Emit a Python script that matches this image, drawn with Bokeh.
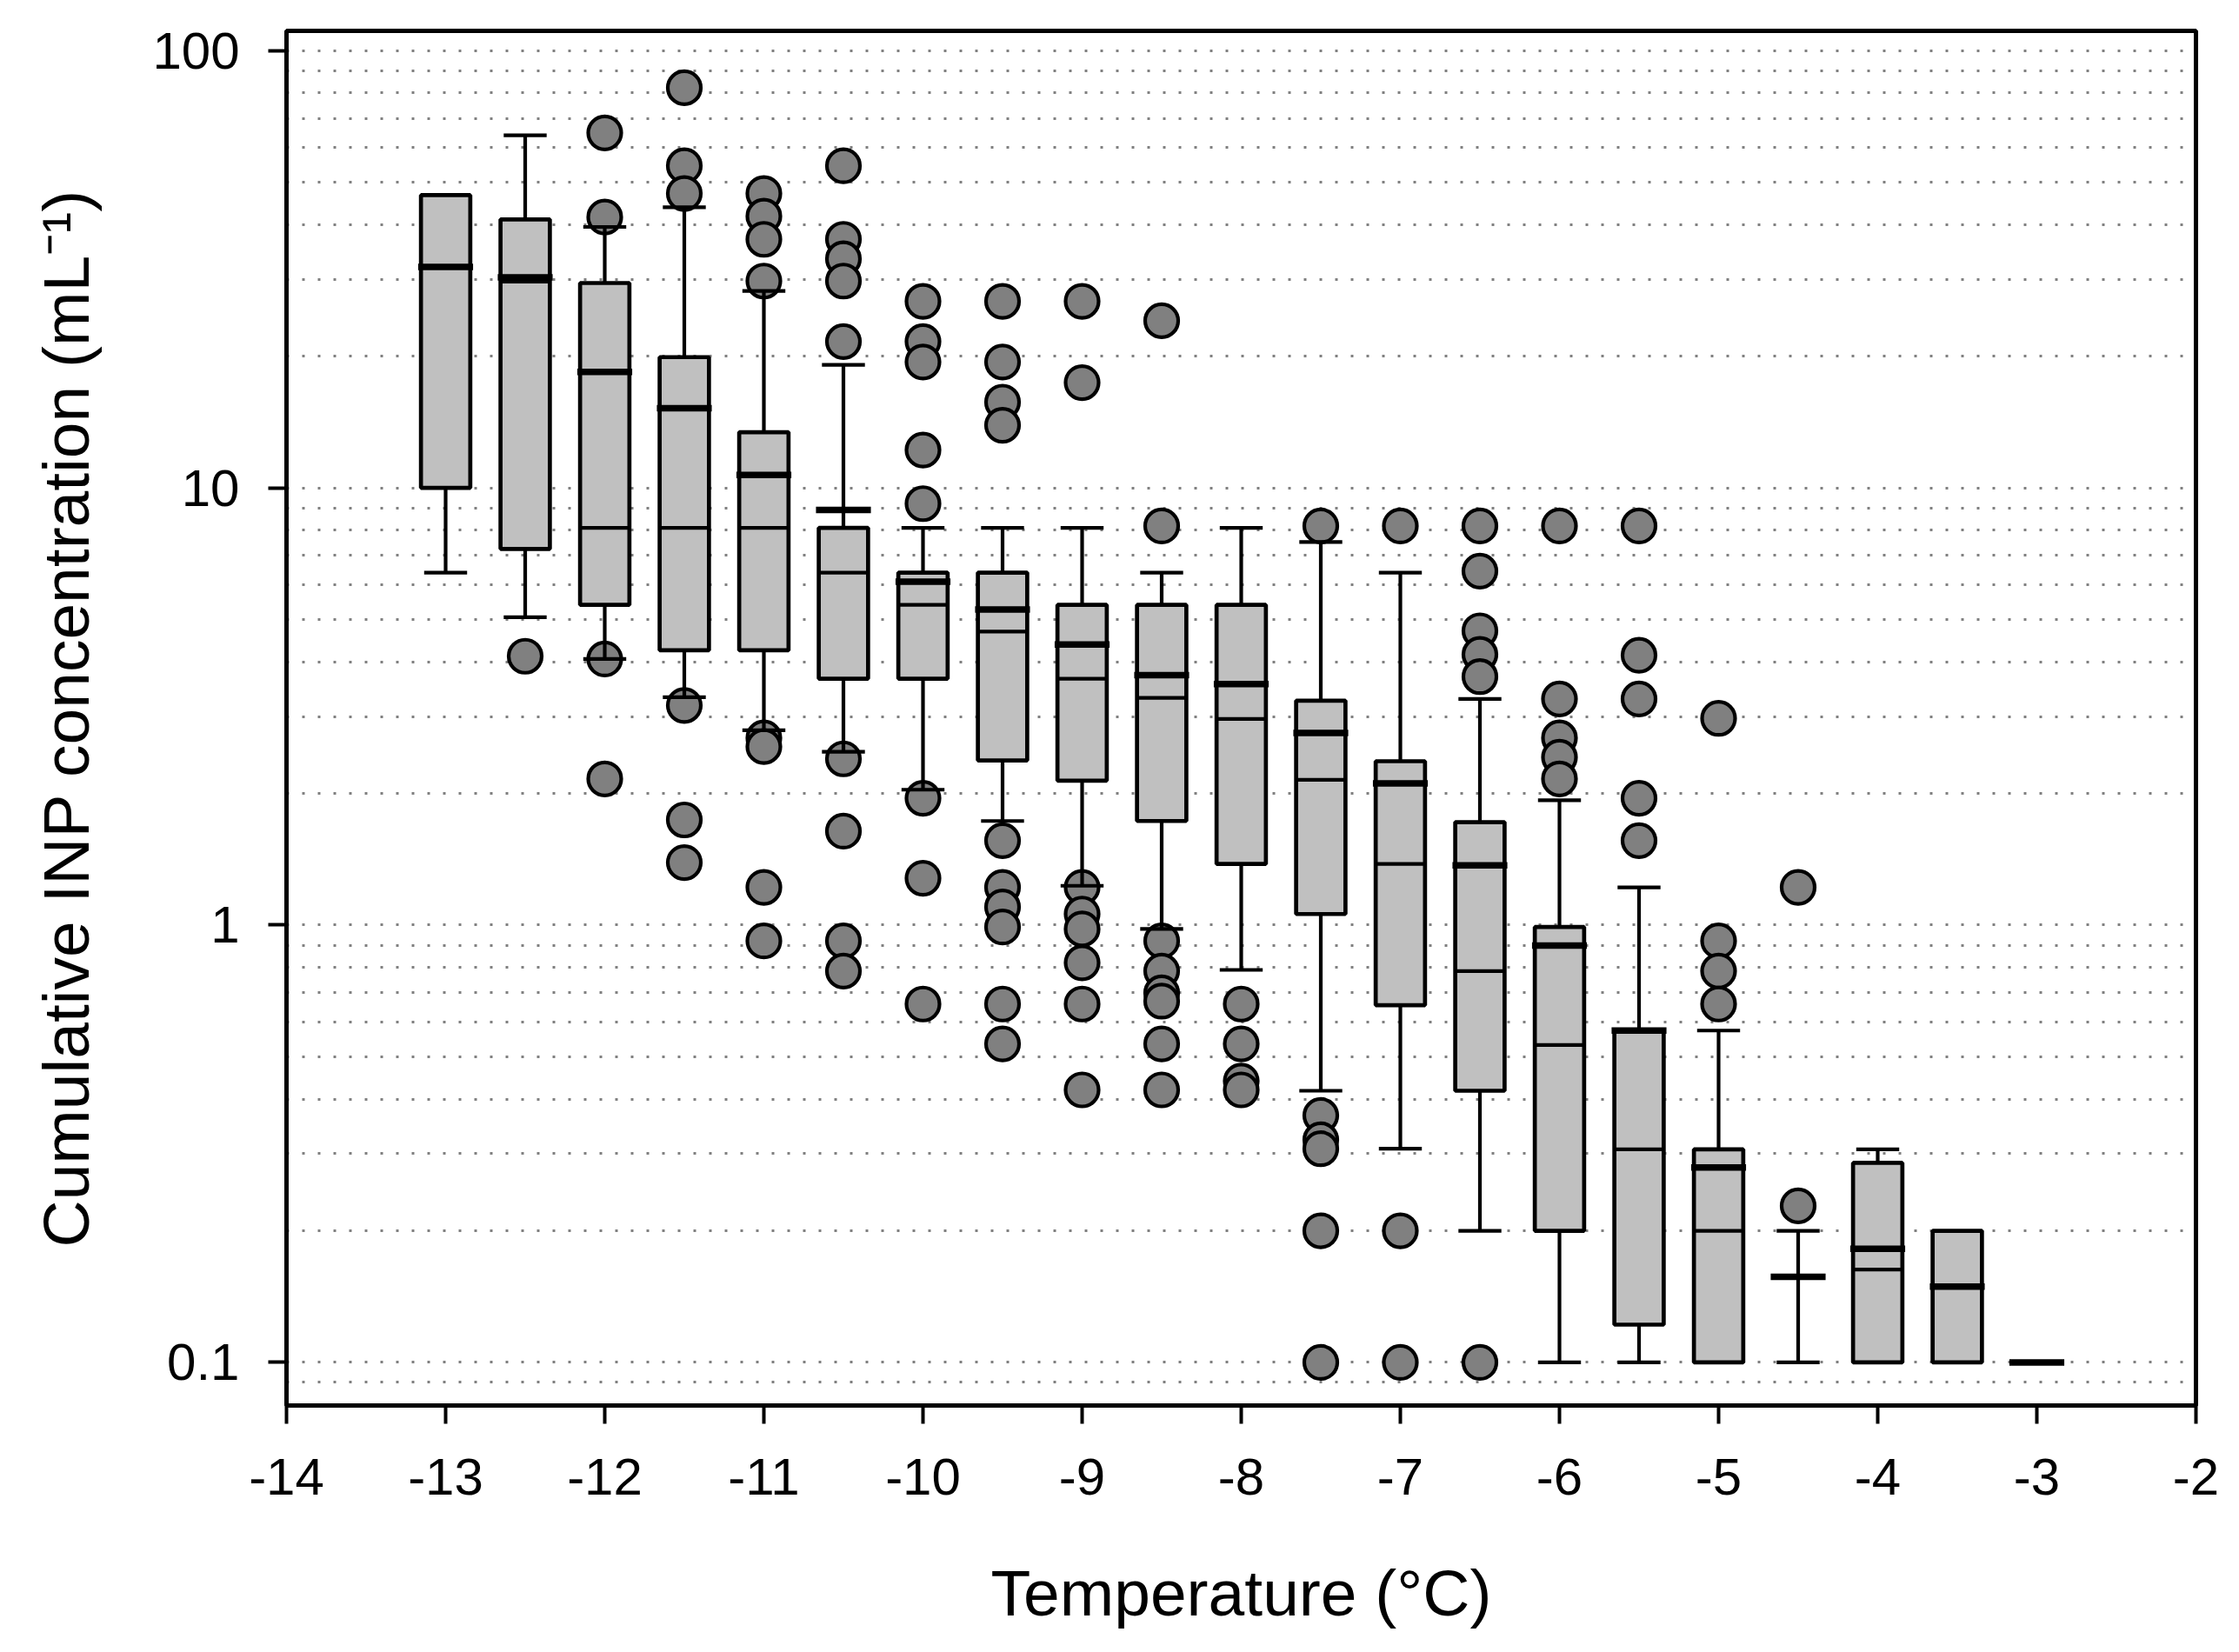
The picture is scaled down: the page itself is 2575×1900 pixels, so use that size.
import math
from bokeh.plotting import figure
from bokeh.models import Range1d, FixedTicker
from bokeh.embed import file_html
from bokeh.resources import INLINE

nan = float("nan")

# ---------------- data ----------------
temps = [-13, -12.5, -12, -11.5, -11, -10.5, -10, -9.5, -9, -8.5, -8,
         -7.5, -7, -6.5, -6, -5.5, -5, -4.5, -4, -3.5, -3]

box_top = [46.7, 41.1, 29.4, 19.9, 13.4, 8.1, 6.4, 6.4, 5.4, 5.4, 5.4,
           3.26, 2.37, 1.72, 0.99, 0.574, 0.307, nan, 0.286, 0.2, nan]
box_bottom = [10.0, 7.25, 5.40, 4.25, 4.25, 3.66, 3.66, 2.38, 2.14, 1.73, 1.38,
              1.06, 0.656, 0.418, 0.2, 0.122, 0.1, nan, 0.1, 0.1, nan]
medians = [32.0, 29.6, 8.1, 8.1, 8.1, 6.4, 5.4, 4.69, 3.66, 3.31, 2.96,
           2.15, 1.38, 0.785, 0.532, 0.307, 0.2, nan, 0.163, nan, nan]
means = [32.0, 30.3, 18.4, 15.2, 10.7, 8.9, 6.1, 5.27, 4.38, 3.73, 3.56,
         2.75, 2.11, 1.37, 0.898, 0.574, 0.279, 0.157, 0.182, 0.149, 0.1]
whisker_hi = [nan, 64.0, 39.5, 43.8, 28.2, 19.1, 8.1, 8.1, 8.1, 6.4, 8.1,
              7.52, 6.4, 3.29, 1.93, 1.22, 0.574, 0.2, 0.307, nan, nan]
whisker_lo = [6.4, 5.06, 4.06, 3.32, 2.79, 2.49, 2.04, 1.73, 1.23, 0.98, 0.79,
              0.418, 0.308, 0.2, 0.1, 0.1, nan, 0.1, nan, nan, nan]

outliers = [
    [],
    [4.12],
    [64.8, 41.6, 4.06, 2.16],
    [82.2, 54.5, 47.1, 3.18, 1.74, 1.39],
    [47.1, 41.8, 37.0, 29.7, 2.68, 2.56, 1.22, 0.92],
    [54.5, 37.0, 33.4, 29.7, 21.6, 2.4, 1.64, 0.92, 0.785],
    [26.7, 21.6, 19.4, 12.2, 9.2, 1.95, 1.28, 0.66],
    [26.7, 19.4, 15.7, 13.9, 1.56, 1.22, 1.10, 0.99, 0.66, 0.535],
    [26.7, 17.4, 1.22, 1.06, 0.98, 0.82, 0.66, 0.42],
    [24.1, 8.18, 0.92, 0.785, 0.70, 0.67, 0.535, 0.42],
    [0.66, 0.535, 0.44, 0.42],
    [8.18, 0.367, 0.323, 0.308, 0.2, 0.1],
    [8.18, 0.2, 0.1],
    [8.18, 6.45, 4.71, 4.16, 3.70, 0.1],
    [8.18, 3.29, 2.68, 2.42, 2.16],
    [8.18, 4.14, 3.29, 1.95, 1.56],
    [2.97, 0.92, 0.785, 0.66],
    [1.22, 0.228],
    [],
    [],
    [],
]

x_ticks = [-14, -13, -12, -11, -10, -9, -8, -7, -6, -5, -4, -3, -2]
x_tick_labels = ["-14", "-13", "-12", "-11", "-10", "-9", "-8", "-7", "-6", "-5", "-4", "-3", "-2"]
y_ticks = [0.1, 1, 10, 100]
y_tick_labels = ["0.1", "1", "10", "100"]
y_grid_values = [0.09] + [k * 0.1 for k in range(1, 10)] + list(range(1, 10)) + \
                [k * 10 for k in range(1, 11)]

# ---------------- style ----------------
FONT = "Liberation Sans"
BOX_W = 0.31
MEAN_W = 0.345
CAP_W = 0.27


def ok(v):
    return not (isinstance(v, float) and math.isnan(v))


p = figure(frame_width=2196, frame_height=1581,
           min_border_left=329, min_border_right=38,
           min_border_top=35, min_border_bottom=272,
           x_range=Range1d(-14, -2), y_range=Range1d(0.0797, 110.9),
           y_axis_type="log", output_backend="svg", toolbar_location=None)

p.background_fill_color = "white"
p.border_fill_color = "white"
p.outline_line_color = "black"
p.outline_line_width = 5

# grid
p.xgrid.grid_line_color = None
p.ygrid.ticker = FixedTicker(ticks=y_grid_values)
p.ygrid.grid_line_color = "#808080"
p.ygrid.grid_line_width = 3
p.ygrid.grid_line_dash = "3 15"

# axes
p.xaxis.ticker = FixedTicker(ticks=x_ticks)
p.xaxis.major_label_overrides = {t: s for t, s in zip(x_ticks, x_tick_labels)}
p.yaxis.ticker = FixedTicker(ticks=y_ticks)
p.yaxis.major_label_overrides = {t: s for t, s in zip(y_ticks, y_tick_labels)}
for ax in (p.xaxis[0], p.yaxis[0]):
    ax.axis_line_width = 5
    ax.axis_line_color = "black"
    ax.major_tick_line_width = 4
    ax.major_tick_line_color = "black"
    ax.major_tick_in = 0
    ax.major_tick_out = 21
    ax.minor_tick_line_color = None
    ax.major_label_text_font = FONT
    ax.major_label_text_font_size = "60px"
    ax.major_label_text_color = "black"
    ax.axis_label_text_font = FONT
    ax.axis_label_text_font_size = "75px"
    ax.axis_label_text_font_style = "normal"
    ax.axis_label_text_color = "black"

p.xaxis.major_label_standoff = 40
p.yaxis.major_label_standoff = 33
p.xaxis.axis_label = "Temperature (°C)"
p.xaxis.axis_label_standoff = 68
p.yaxis.axis_label = "Cumulative INP concentration (mL⁻¹)"
p.yaxis.axis_label_standoff = 54

LW = 4.2

# ---------------- marks ----------------
ox, oy = [], []
for t, vals in zip(temps, outliers):
    for v in vals:
        ox.append(t)
        oy.append(v)
p.scatter(x=ox, y=oy, size=38, marker="circle", fill_color="#808080",
          line_color="black", line_width=LW)

# whiskers (vertical parts)
wx, wy0, wy1 = [], [], []
for t, hi, top, lo, bot in zip(temps, whisker_hi, box_top, whisker_lo, box_bottom):
    if ok(hi):
        wx.append(t); wy0.append(top if ok(top) else lo); wy1.append(hi)
    if ok(lo) and ok(bot):
        wx.append(t); wy0.append(bot); wy1.append(lo)
p.segment(x0=wx, x1=wx, y0=wy0, y1=wy1, line_color="black", line_width=LW)

# caps
cx0, cx1, cy = [], [], []
for t, hi, lo in zip(temps, whisker_hi, whisker_lo):
    for v in (hi, lo):
        if ok(v):
            cx0.append(t - CAP_W / 2); cx1.append(t + CAP_W / 2); cy.append(v)
p.segment(x0=cx0, x1=cx1, y0=cy, y1=cy, line_color="black", line_width=LW)

# boxes
bx, bt, bb = [], [], []
for t, top, bot in zip(temps, box_top, box_bottom):
    if ok(top) and ok(bot):
        bx.append(t); bt.append(top); bb.append(bot)
p.vbar(x=bx, width=BOX_W, top=bt, bottom=bb, fill_color="#c0c0c0",
       line_color="black", line_width=LW + 0.5)

# medians (thin)
mx0, mx1, my = [], [], []
for t, m in zip(temps, medians):
    if ok(m):
        mx0.append(t - BOX_W / 2); mx1.append(t + BOX_W / 2); my.append(m)
p.segment(x0=mx0, x1=mx1, y0=my, y1=my, line_color="black", line_width=LW)

# means (thick)
ex0, ex1, ey = [], [], []
for t, m in zip(temps, means):
    if ok(m):
        ex0.append(t - MEAN_W / 2); ex1.append(t + MEAN_W / 2); ey.append(m)
p.segment(x0=ex0, x1=ex1, y0=ey, y1=ey, line_color="black", line_width=7.5)

open("out.html", "w").write(file_html(p, INLINE))
